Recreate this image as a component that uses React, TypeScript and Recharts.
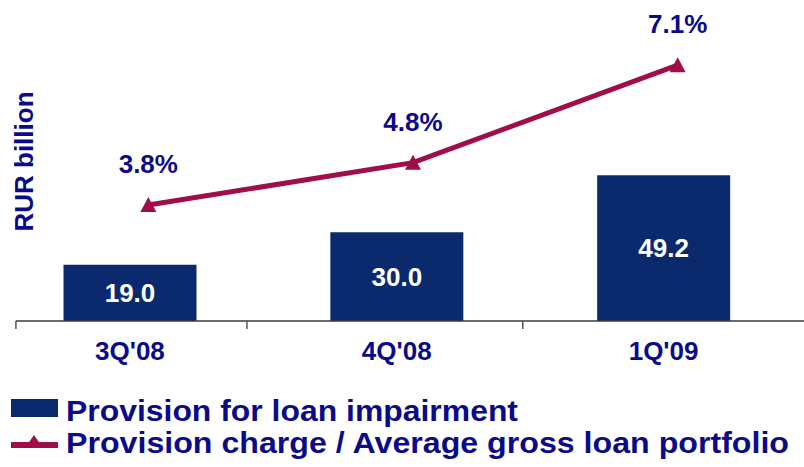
import { ComposedChart, Bar, Line, XAxis, YAxis, LabelList, Legend } from 'recharts';

const quarters = ["3Q'08", "4Q'08", "1Q'09"];
const provision = [19.0, 30.0, 49.2];
const chargeRatio = [3.8, 4.8, 7.1];
const seriesNames = ['Provision for loan impairment', 'Provision charge / Average gross loan portfolio'];

const NAVY_TEXT = '#0b0b8a';
const BAR_COLOR = '#0b2a6e';
const LINE_COLOR = '#a00d4a';
const FONT = '"Liberation Sans", Arial, sans-serif';

const data = quarters.map((q, i) => ({
  quarter: q,
  provision: provision[i],
  ratio: chargeRatio[i],
}));

// tick marks sit between categories, not at their centres
const tickMarks: { [key: number]: number[] } = { 0: [-114, 117], 1: [126] };

function QuarterTick(props: any) {
  const { x, y, payload, index } = props;
  return (
    <g>
      {(tickMarks[index] || []).map((dx) => (
        <line key={dx} x1={x + dx} x2={x + dx} y1={y} y2={y + 8} stroke="#555" strokeWidth={1.5} />
      ))}
      <text x={x} y={y + 39} textAnchor="middle" fill={NAVY_TEXT} fontSize={26} fontWeight="bold" fontFamily={FONT}>
        {payload.value}
      </text>
    </g>
  );
}

function TriangleDot(props: any) {
  const { cx, cy } = props;
  if (cx == null || cy == null) return null;
  return <path d={`M${cx},${cy - 8} L${cx + 8},${cy + 7} L${cx - 8},${cy + 7} Z`} fill={LINE_COLOR} />;
}

function AxisTitle(props: any) {
  const { viewBox } = props;
  const cy = viewBox.y + viewBox.height / 2 - 10;
  return (
    <text
      transform={`translate(${viewBox.x + 33}, ${cy}) rotate(-90)`}
      textAnchor="middle"
      fill={NAVY_TEXT}
      fontSize={26}
      fontWeight="bold"
      fontFamily={FONT}
    >
      RUR billion
    </text>
  );
}

function LegendBox() {
  return (
    <svg width={804} height={82} style={{ display: 'block' }}>
      <rect x={11} y={14} width={47} height={18} fill={BAR_COLOR} />
      <text x={66} y={36} fontSize={30} fontWeight="bold" fill={NAVY_TEXT} fontFamily={FONT}
        textLength={452} lengthAdjust="spacingAndGlyphs">
        {seriesNames[0]}
      </text>
      <line x1={11} x2={58} y1={60} y2={60} stroke={LINE_COLOR} strokeWidth={6} />
      <path d="M34,50 L43,63 L25,63 Z" fill={LINE_COLOR} />
      <text x={66} y={68} fontSize={30} fontWeight="bold" fill={NAVY_TEXT} fontFamily={FONT}
        textLength={723} lengthAdjust="spacingAndGlyphs">
        {seriesNames[1]}
      </text>
    </svg>
  );
}

export default function App() {
  return (
    <div style={{ position: 'absolute', left: 0, top: 0, width: 804, height: 467, background: '#fff' }}>
      <ComposedChart
        width={804}
        height={467}
        data={data}
        margin={{ top: 22, right: 0, bottom: 0, left: 0 }}
        style={{ fontFamily: FONT }}
      >
        <XAxis
          xAxisId="bar"
          dataKey="quarter"
          padding={{ left: -19.5, right: 7 }}
          axisLine={{ stroke: '#3a3a3a', strokeWidth: 1.5 }}
          tickLine={false}
          tickSize={0}
          tickMargin={0}
          interval={0}
          tick={<QuarterTick />}
          height={146}
        />
        <XAxis xAxisId="line" dataKey="quarter" hide padding={{ left: 0, right: -6 }} />
        <YAxis
          yAxisId="left"
          width={16}
          domain={[0, 101]}
          axisLine={false}
          tickLine={false}
          tick={false}
          label={<AxisTitle />}
        />
        <YAxis yAxisId="right" orientation="right" hide domain={[1.066, 8.118]} allowDataOverflow />
        <Bar
          xAxisId="bar"
          yAxisId="left"
          dataKey="provision"
          name={seriesNames[0]}
          fill={BAR_COLOR}
          barSize={133}
          isAnimationActive={false}
        >
          <LabelList
            dataKey="provision"
            position="center"
            fill="#ffffff"
            fontSize={26}
            fontWeight="bold"
            formatter={(v: any) => Number(v).toFixed(1)}
          />
        </Bar>
        <Line
          xAxisId="line"
          yAxisId="right"
          dataKey="ratio"
          name={seriesNames[1]}
          stroke={LINE_COLOR}
          strokeWidth={5}
          dot={<TriangleDot />}
          activeDot={false}
          isAnimationActive={false}
        >
          <LabelList
            dataKey="ratio"
            position="top"
            offset={32}
            fill={NAVY_TEXT}
            fontSize={26}
            fontWeight="bold"
            formatter={(v: any) => `${Number(v).toFixed(1)}%`}
          />
        </Line>
        <Legend
          layout="vertical"
          align="center"
          verticalAlign="middle"
          content={() => <LegendBox />}
          wrapperStyle={{ left: 0, top: 385, width: 804, height: 82 }}
        />
      </ComposedChart>
    </div>
  );
}
